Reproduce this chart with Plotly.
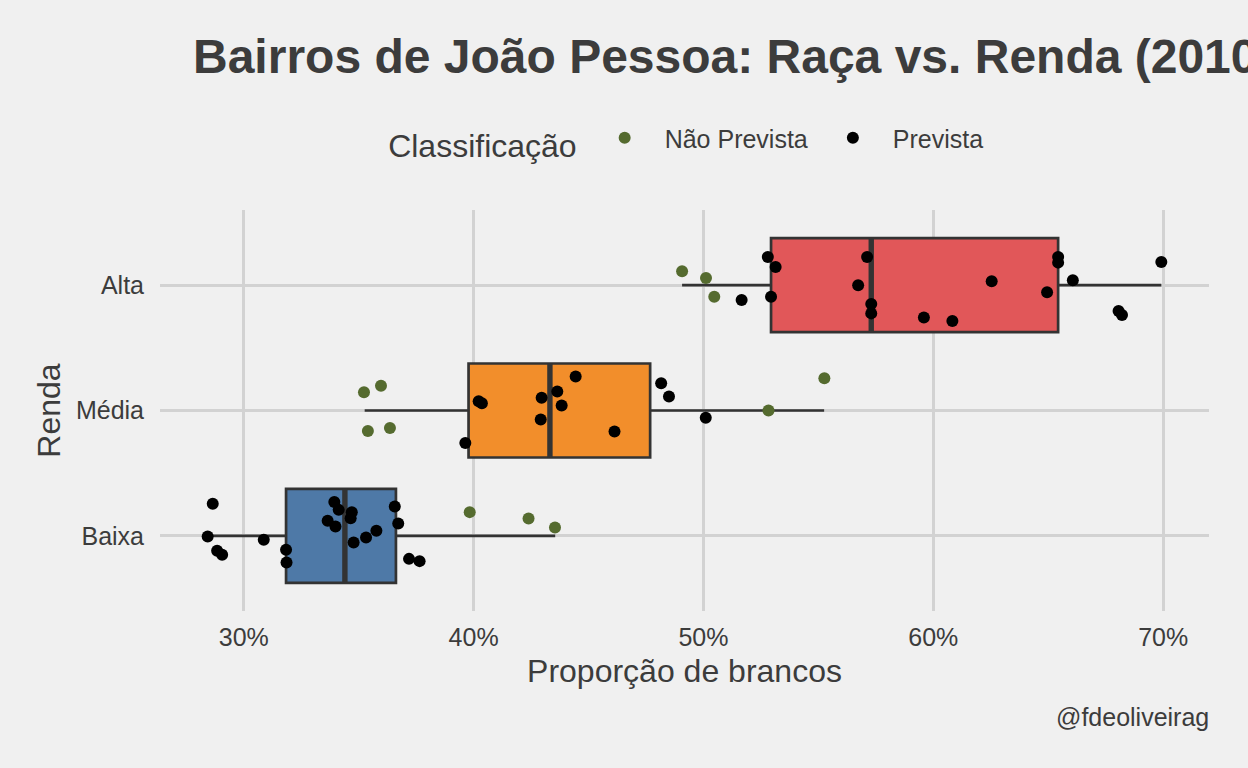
import plotly.graph_objects as go

# ---------------- data ----------------
categories = ["Baixa", "Média", "Alta"]
box_fill = ["#4E79A7", "#F28E2B", "#E15759"]

# box statistics (percent)
box_q1 = [31.84, 39.78, 52.94]
box_median = [34.40, 43.32, 57.30]
box_q3 = [36.62, 47.68, 65.43]
box_lower = [28.43, 35.26, 49.07]
box_upper = [43.55, 55.25, 69.92]

# jittered points: value (percent), vertical jitter (category units), class
baixa_x = [28.65, 28.43, 28.84, 29.06, 30.87, 31.84, 31.86, 33.94, 34.13, 33.65,
           33.99, 34.70, 34.65, 34.78, 35.32, 35.77, 36.57, 36.72, 37.19, 37.65,
           39.83, 42.39, 43.54]
baixa_jit = [0.255, -0.005, -0.120, -0.152, -0.032, -0.112, -0.213, 0.269, 0.207, 0.120,
             0.074, 0.189, 0.141, -0.053, -0.013, 0.040, 0.234, 0.098, -0.184, -0.202,
             0.189, 0.138, 0.066]
baixa_cls = ["Prevista"] * 20 + ["Não Prevista"] * 3

media_x = [35.23, 35.97, 35.40, 36.36, 39.64, 40.22, 40.36, 42.96, 42.92, 43.64,
           43.83, 44.44, 46.13, 48.16, 48.50, 50.10, 52.83, 55.26]
media_jit = [0.146, 0.198, -0.164, -0.140, -0.259, 0.074, 0.058, 0.101, -0.071, 0.151,
             0.040, 0.272, -0.167, 0.217, 0.111, -0.058, 0.000, 0.257]
media_cls = ["Não Prevista"] * 4 + ["Prevista"] * 12 + ["Não Prevista"] * 2

alta_x = [49.07, 50.11, 50.47, 51.66, 52.80, 53.14, 52.94, 57.12, 56.73, 57.30,
          57.30, 59.59, 60.83, 62.54, 64.95, 65.43, 65.43, 66.07, 69.92, 68.06, 68.21]
alta_jit = [0.111, 0.058, -0.093, -0.119, 0.225, 0.146, -0.093, 0.225, 0.000, -0.151,
            -0.225, -0.257, -0.286, 0.032, -0.056, 0.225, 0.180, 0.040, 0.185, -0.206, -0.238]
alta_cls = ["Não Prevista"] * 3 + ["Prevista"] * 18

class_names = ["Não Prevista", "Prevista"]
class_colors = ["#556B2F", "#000000"]

x_ticks = [30, 40, 50, 60, 70]
x_ticklabels = ["30%", "40%", "50%", "60%", "70%"]

# ---------------- styling ----------------
BG = "#F0F0F0"
GRID = "#D2D2D2"
TXT = "#3C3C3C"
FONT = "Liberation Sans, Arial, Helvetica, sans-serif"
BOX_W = 0.75

fig = go.Figure()

for i, cat in enumerate(categories):
    pos = i + 1
    fig.add_trace(go.Box(
        y=[pos], q1=[box_q1[i]], median=[box_median[i]], q3=[box_q3[i]],
        lowerfence=[box_lower[i]], upperfence=[box_upper[i]],
        orientation="h", width=BOX_W, whiskerwidth=0,
        fillcolor=box_fill[i], line=dict(color="#333333", width=2.7),
        boxpoints=False, showlegend=False, hoverinfo="skip",
    ))
    # thicker median line (ggplot fatten)
    fig.add_trace(go.Scatter(
        x=[box_median[i], box_median[i]], y=[pos - BOX_W / 2, pos + BOX_W / 2],
        mode="lines", line=dict(color="#333333", width=5.4),
        showlegend=False, hoverinfo="skip",
    ))

groups = [(baixa_x, baixa_jit, baixa_cls), (media_x, media_jit, media_cls), (alta_x, alta_jit, alta_cls)]
for cname, ccol in zip(class_names, class_colors):
    xs, ys = [], []
    for gi, (gx, gj, gc) in enumerate(groups):
        for v, j, c in zip(gx, gj, gc):
            if c == cname:
                xs.append(v)
                ys.append(gi + 1 + j)
    fig.add_trace(go.Scatter(
        x=xs, y=ys, mode="markers", name=cname,
        marker=dict(color=ccol, size=12),
    ))

lo, hi = min(box_lower), max(box_upper)
pad = 0.05 * (hi - lo)

fig.update_layout(
    width=1248, height=768,
    paper_bgcolor=BG, plot_bgcolor=BG,
    margin=dict(l=160, r=39, t=210, b=157),
    font=dict(family=FONT, color=TXT, size=25),
    title=dict(
        text="<b>Bairros de João Pessoa: Raça vs. Renda (2010)</b>",
        x=193 / 1248, xanchor="left", xref="container",
        y=1 - 56 / 768, yanchor="middle", yref="container",
        font=dict(size=48, color=TXT, family=FONT),
    ),
    legend=dict(
        orientation="h", x=0.503, xanchor="center", y=1.172, yanchor="middle",
        title=dict(text="Classificação", side="left", font=dict(size=32, color=TXT)),
        font=dict(size=25, color=TXT), bgcolor="rgba(0,0,0,0)",
        itemwidth=70,
    ),
    xaxis=dict(
        range=[lo - pad, hi + pad], tickvals=x_ticks, ticktext=x_ticklabels,
        showgrid=True, gridcolor=GRID, gridwidth=2.7, zeroline=False,
        showline=False, ticks="outside", ticklen=4, tickcolor="rgba(0,0,0,0)",
        tickfont=dict(size=25, color=TXT),
        title=dict(text="Proporção de brancos", font=dict(size=32, color=TXT), standoff=9),
    ),
    yaxis=dict(
        range=[0.4, 3.6], tickvals=[1, 2, 3], ticktext=categories,
        showgrid=True, gridcolor=GRID, gridwidth=2.7, zeroline=False,
        showline=False, ticks="outside", ticklen=10, tickcolor="rgba(0,0,0,0)",
        tickfont=dict(size=25, color=TXT),
        title=dict(text="Renda", font=dict(size=32, color=TXT), standoff=5),
    ),
    annotations=[dict(
        text="@fdeoliveirag", xref="paper", yref="paper", x=1.002, y=(611.2 - 717) / 401,
        xanchor="right", yanchor="middle", showarrow=False,
        font=dict(size=25, color=TXT),
    )],
)

fig.write_html("out.html")
